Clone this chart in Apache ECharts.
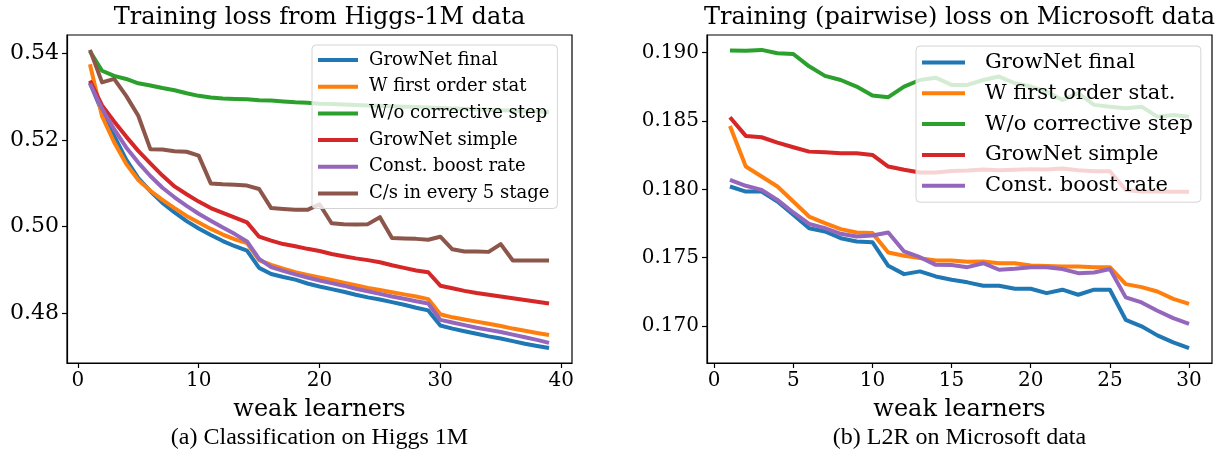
<!DOCTYPE html>
<html>
<head>
<meta charset="utf-8">
<script src="https://cdn.jsdelivr.net/npm/echarts@6/dist/echarts.min.js"></script>
<style>html,body{margin:0;padding:0;background:#fff}#c{width:1220px;height:454px}</style>
</head>
<body>
<div id="c"></div>
<script>
// ---------- Data: (a) Higgs 1M ----------
const stagesLeft = [1,2,3,4,5,6,7,8,9,10,11,12,13,14,15,16,17,18,19,20,21,22,23,24,25,26,27,28,29,30,31,32,33,34,35,36,37,38,39];
const growNetFinalL = [0.5332,0.5265,0.5210,0.5155,0.5112,0.5082,0.5055,0.5033,0.5013,0.4996,0.4981,0.4967,0.4955,0.4945,0.4905,0.4891,0.4884,0.4878,0.4869,0.4862,0.4856,0.4850,0.4843,0.4837,0.4832,0.4826,0.4820,0.4813,0.4807,0.4772,0.4765,0.4759,0.4753,0.4747,0.4742,0.4736,0.4730,0.4725,0.4720];
const firstOrderL = [0.5375,0.5255,0.5195,0.5145,0.5108,0.5083,0.5062,0.5043,0.5025,0.5010,0.4995,0.4982,0.4971,0.4962,0.4923,0.4912,0.4903,0.4895,0.4889,0.4883,0.4877,0.4871,0.4865,0.4859,0.4854,0.4849,0.4844,0.4839,0.4833,0.4798,0.4791,0.4786,0.4781,0.4776,0.4771,0.4765,0.4760,0.4755,0.4750];
const noCorrectiveL = [0.5405,0.5360,0.5348,0.5341,0.5331,0.5326,0.5320,0.5315,0.5308,0.5302,0.5298,0.5296,0.5295,0.5294,0.5292,0.5291,0.5289,0.5287,0.5286,0.5284,0.5283,0.5282,0.5281,0.5280,0.5279,0.5278,0.5277,0.5276,0.5275,0.5274,0.5273,0.5272,0.5271,0.5270,0.5269,0.5268,0.5267,0.5266,0.5265];
const growNetSimpleL = [0.5337,0.5280,0.5243,0.5208,0.5175,0.5146,0.5118,0.5093,0.5075,0.5058,0.5043,0.5032,0.5021,0.5010,0.4977,0.4968,0.4960,0.4955,0.4949,0.4944,0.4937,0.4932,0.4927,0.4923,0.4918,0.4911,0.4905,0.4899,0.4895,0.4864,0.4858,0.4852,0.4847,0.4843,0.4839,0.4835,0.4831,0.4827,0.4823];
const constBoostL = [0.5330,0.5272,0.5225,0.5183,0.5148,0.5117,0.5090,0.5068,0.5048,0.5030,0.5014,0.4998,0.4983,0.4966,0.4926,0.4907,0.4898,0.4890,0.4883,0.4876,0.4870,0.4864,0.4857,0.4851,0.4845,0.4839,0.4834,0.4828,0.4823,0.4785,0.4779,0.4773,0.4767,0.4762,0.4757,0.4751,0.4745,0.4739,0.4732];
const everyFiveL = [0.5408,0.5333,0.5341,0.5302,0.5256,0.5179,0.5178,0.5174,0.5173,0.5164,0.5100,0.5098,0.5097,0.5095,0.5087,0.5043,0.5041,0.5039,0.5039,0.5052,0.5008,0.5006,0.5005,0.5006,0.5022,0.4974,0.4973,0.4972,0.4970,0.4977,0.4948,0.4943,0.4943,0.4942,0.4960,0.4922,0.4922,0.4922,0.4922];
const xTicksLeft = [0,10,20,30,40];
const yTicksLeft = [0.48,0.50,0.52,0.54];

// ---------- Data: (b) Microsoft L2R ----------
const stagesRight = [1,2,3,4,5,6,7,8,9,10,11,12,13,14,15,16,17,18,19,20,21,22,23,24,25,26,27,28,29,30];
const growNetFinalR = [0.18021,0.17984,0.17984,0.17911,0.17814,0.17716,0.17692,0.17643,0.17619,0.17614,0.17441,0.17380,0.17400,0.17363,0.17339,0.17320,0.17295,0.17295,0.17273,0.17273,0.17241,0.17266,0.17229,0.17266,0.17266,0.17046,0.16998,0.16932,0.16881,0.16839];
const firstOrderR = [0.18464,0.18167,0.18094,0.18021,0.17911,0.17801,0.17753,0.17709,0.17685,0.17680,0.17538,0.17514,0.17497,0.17480,0.17480,0.17470,0.17472,0.17460,0.17460,0.17443,0.17440,0.17436,0.17436,0.17431,0.17431,0.17307,0.17285,0.17253,0.17199,0.17163];
const noCorrectiveR = [0.19015,0.19013,0.19020,0.18995,0.18990,0.18900,0.18830,0.18800,0.18752,0.18686,0.18674,0.18752,0.18800,0.18817,0.18764,0.18764,0.18800,0.18825,0.18776,0.18752,0.18715,0.18654,0.18703,0.18618,0.18605,0.18593,0.18605,0.18532,0.18544,0.18532];
const growNetSimpleR = [0.18527,0.18391,0.18381,0.18342,0.18308,0.18276,0.18272,0.18264,0.18264,0.18252,0.18167,0.18143,0.18123,0.18123,0.18135,0.18138,0.18145,0.18140,0.18143,0.18148,0.18145,0.18153,0.18140,0.18133,0.18133,0.17995,0.17985,0.17984,0.17983,0.17983];
const constBoostR = [0.18070,0.18026,0.17996,0.17923,0.17831,0.17748,0.17716,0.17675,0.17655,0.17663,0.17685,0.17546,0.17504,0.17448,0.17446,0.17431,0.17460,0.17412,0.17419,0.17431,0.17431,0.17417,0.17387,0.17392,0.17417,0.17210,0.17173,0.17112,0.17058,0.17017];
const xTicksRight = [0,5,10,15,20,25,30];
const yTicksRight = [0.170,0.175,0.180,0.185,0.190];

const namesLeft = ['GrowNet final','W first order stat','W/o corrective step','GrowNet simple','Const. boost rate','C/s in every 5 stage'];
const namesRight = ['GrowNet final','W first order stat.','W/o corrective step','GrowNet simple','Const. boost rate'];
const colors = ['#1f77b4','#ff7f0e','#2ca02c','#d62728','#9467bd','#8c564b'];

const seriesLeft = [growNetFinalL, firstOrderL, noCorrectiveL, growNetSimpleL, constBoostL, everyFiveL];
const seriesRight = [growNetFinalR, firstOrderR, noCorrectiveR, growNetSimpleR, constBoostR];

const SERIF = 'DejaVu Serif';

function pairs(xs, ys){ return ys.map((v,i)=>[xs[i], v]); }

function xAxisCfg(idx, min, max, ticks){
  return {
    gridIndex: idx, type:'value', min:min, max:max,
    axisLine:{show:true, onZero:false, lineStyle:{color:'#000', width:1.2}},
    splitLine:{show:false},
    axisTick:{show:true, length:5, lineStyle:{color:'#000', width:1.2}, customValues:ticks},
    axisLabel:{customValues:ticks, color:'#000', fontFamily:SERIF, fontSize:20, margin:8},
    name:'weak learners', nameLocation:'middle', nameGap:35,
    nameTextStyle:{color:'#000', fontFamily:SERIF, fontSize:24}
  };
}
function yAxisCfg(idx, min, max, ticks, dec, fs){
  return {
    gridIndex: idx, type:'value', min:min, max:max, scale:true,
    axisLine:{show:true, onZero:false, lineStyle:{color:'#000', width:1.2}},
    splitLine:{show:false},
    axisTick:{show:true, length:5, lineStyle:{color:'#000', width:1.2}, customValues:ticks},
    axisLabel:{customValues:ticks, color:'#000', fontFamily:SERIF, fontSize:fs, margin:8,
      formatter:(v)=>Number(v).toFixed(dec)}
  };
}

const series = [];
seriesLeft.forEach((arr,i)=>{
  series.push({type:'line', name:namesLeft[i], xAxisIndex:0, yAxisIndex:0,
    data:pairs(stagesLeft, arr), showSymbol:false, symbol:'none',
    lineStyle:{width:4, color:colors[i], join:'round'}, itemStyle:{color:colors[i]}, animation:false});
});
seriesRight.forEach((arr,i)=>{
  series.push({type:'line', name:namesRight[i], xAxisIndex:1, yAxisIndex:1,
    data:pairs(stagesRight, arr), showSymbol:false, symbol:'none',
    lineStyle:{width:4, color:colors[i], join:'round'}, itemStyle:{color:colors[i]}, animation:false});
});

function legendCfg(names, left, top, fs, lh, gap, iw, txtPad){
  return {
    data:names, orient:'vertical', left:left, top:top, icon:'rect',
    itemWidth:iw, itemHeight:4, itemGap:gap, padding:[5,8,5,6],
    backgroundColor:'rgba(255,255,255,0.8)', borderColor:'#d4d4d4', borderWidth:1, borderRadius:4,
    selectedMode:false, z:10,
    textStyle:{fontFamily:SERIF, fontSize:fs, lineHeight:lh, color:'#000', padding:[0,0,0,txtPad]}
  };
}

const chart = echarts.init(document.getElementById('c'), null, {renderer:'canvas'});
chart.setOption({
  animation:false,
  backgroundColor:'#fff',
  color:colors,
  grid:[
    {left:67, top:35, width:505, height:328, show:true, borderColor:'#000', borderWidth:1.2, backgroundColor:'transparent'},
    {left:707, top:35, width:505, height:328, show:true, borderColor:'#000', borderWidth:1.2, backgroundColor:'transparent'}
  ],
  xAxis:[ xAxisCfg(0, -0.9, 40.9, xTicksLeft), xAxisCfg(1, -0.45, 31.45, xTicksRight) ],
  yAxis:[ yAxisCfg(0, 0.46856, 0.54424, yTicksLeft, 2, 22), yAxisCfg(1, 0.1673, 0.19129, yTicksRight, 3, 20) ],
  legend:[
    legendCfg(namesLeft, 312, 45, 18, 20, 6.7, 40, 6),
    legendCfg(namesRight, 916, 46, 21, 23, 7.8, 43, 15)
  ],
  series:series,
  graphic:[
    {type:'rect', z:50, shape:{x:0, y:419, width:1220, height:8}, style:{fill:'#fff'}},
    {type:'text', z:60, x:319.5, y:18, style:{text:'Training loss from Higgs-1M data', font:'24px "DejaVu Serif"', fill:'#000', align:'center', verticalAlign:'middle'}},
    {type:'text', z:60, x:959.5, y:18, style:{text:'Training (pairwise) loss on Microsoft data', font:'24px "DejaVu Serif"', fill:'#000', align:'center', verticalAlign:'middle'}},
    {type:'text', z:60, x:319.5, y:438, style:{text:'(a) Classification on Higgs 1M', font:'24px "Liberation Serif"', fill:'#000', align:'center', verticalAlign:'middle'}},
    {type:'text', z:60, x:959.5, y:438, style:{text:'(b) L2R on Microsoft data', font:'24px "Liberation Serif"', fill:'#000', align:'center', verticalAlign:'middle'}}
  ]
});
</script>
</body>
</html>
